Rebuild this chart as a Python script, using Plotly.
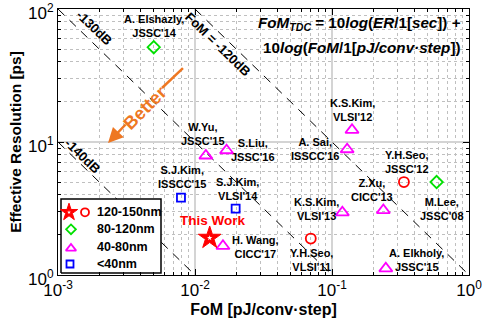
import math
import plotly.graph_objects as go

# ---- TDC survey: FoM [pJ/conv-step] vs. effective resolution [ps] ----
labels_130 = ["Y.H.Seo,<br>VLSI'11", "Y.H.Seo,<br>JSSC'12"]
fom_130 = [0.070, 0.335]
er_130 = [1.88, 5.0]

labels_100 = ["A. Elshazly,<br>JSSC'14", "M.Lee,<br>JSSC'08"]
fom_100 = [0.0050, 0.58]
er_100 = [51.6, 5.0]

labels_60 = ["W.Yu,<br>JSSC'15", "S.Liu,<br>JSSC'16", "H. Wang,<br>CICC'17",
             "K.S.Kim,<br>VLSI'13", "Z.Xu,<br>CICC'13", "K.S.Kim,<br>VLSI'12",
             "A. Sai,<br>ISSCC'16", "A. Elkholy,<br>JSSC'15"]
fom_60 = [0.0120, 0.0170, 0.0160, 0.119, 0.237, 0.140, 0.129, 0.247]
er_60 = [7.9, 8.65, 1.65, 2.95, 3.07, 12.3, 8.8, 1.12]

labels_40 = ["S.J.Kim,<br>ISSCC'15", "S.J.Kim,<br>VLSI'14"]
fom_40 = [0.0079, 0.0198]
er_40 = [3.82, 3.15]

this_work_label = "This Work"
this_work_fom = [0.0128]
this_work_er = [1.9]

fom_tdc_levels = [-120, -130, -140]
fom_tdc_text = ["FoM = -120dB", "-130dB", "-140dB"]

legend_names = ["120-150nm", "80-120nm", "40-80nm", "<40nm"]

x_ticks = [1e-3, 1e-2, 1e-1, 1]
x_ticktext = ["10<sup>-3</sup>", "10<sup>-2</sup>", "10<sup>-1</sup>", "10<sup>0</sup>"]
y_ticks = [1, 10, 100]
y_ticktext = ["10<sup>0</sup>", "10<sup>1</sup>", "10<sup>2</sup>"]

# ---- styling ----
FONT = "Liberation Sans, Arial, Helvetica, sans-serif"
RED, GREEN, MAGENTA, BLUE = "#FF0000", "#00E000", "#FF00FF", "#0000FF"
ORANGE = "#EE7722"
X_RANGE = [-3, 0]
Y_RANGE = [0, 2]

# label offsets in pixels (dx right, dy down) relative to each marker
off_130 = [(1, 21), (3, -20.5)]
off_100 = [(0, -21), (5, 27)]
off_60 = [(-3, -22), (26, 0), (33, 1), (-25.5, -3.6), (-11, -20),
          (0, -20.4), (-32, 0), (31, -8.7)]
off_40 = [(1, -21), (2, -20)]
off_tw = (3.5, -17)

fig = go.Figure()

# constant FoM_TDC contours: ER[s] * FoM[pJ] = 10^(dB/10)  ->  ER[ps]*FoM = 10^((dB+120)/10)
for level in fom_tdc_levels:
    c = 10 ** ((level + 120) / 10)
    f_lo = max(10 ** X_RANGE[0], c / 10 ** Y_RANGE[1])
    f_hi = min(10 ** X_RANGE[1], c / 10 ** Y_RANGE[0])
    fig.add_trace(go.Scatter(
        x=[f_lo, f_hi], y=[c / f_lo, c / f_hi], mode="lines",
        line=dict(color="black", width=1, dash="9px,7px"),
        hoverinfo="skip", showlegend=False))


def add_group(fom, er, symbol, color, size):
    fig.add_trace(go.Scatter(
        x=fom, y=er, mode="markers", showlegend=False,
        marker=dict(symbol=symbol, size=size, color="rgba(0,0,0,0)",
                    line=dict(color=color, width=1.8))))


add_group(fom_130, er_130, "circle", RED, 10)
add_group(fom_100, er_100, "diamond", GREEN, 9.5)
add_group(fom_60, er_60, "triangle-up", MAGENTA, 11.5)
add_group(fom_40, er_40, "square", BLUE, 8)

fig.add_trace(go.Scatter(
    x=this_work_fom, y=this_work_er, mode="markers", showlegend=False,
    marker=dict(symbol="star", size=17, color=RED, line=dict(color=RED, width=1))))
fig.add_trace(go.Scatter(
    x=this_work_fom, y=this_work_er, mode="markers", showlegend=False,
    marker=dict(symbol="star", size=4, color="white", line=dict(width=0))))

annotations = []


def add_labels(labels, fom, er, offsets, color="black", size=11):
    for text, f, e, (dx, dy) in zip(labels, fom, er, offsets):
        annotations.append(dict(
            x=math.log10(f), y=math.log10(e), xref="x", yref="y",
            xanchor="center", yanchor="middle",
            text=text, showarrow=False, xshift=dx, yshift=-dy,
            font=dict(family=FONT, size=size, color=color, weight="bold"),
            align="center"))


add_labels(labels_130, fom_130, er_130, off_130)
add_labels(labels_100, fom_100, er_100, off_100)
add_labels(labels_60, fom_60, er_60, off_60)
add_labels(labels_40, fom_40, er_40, off_40)
add_labels([this_work_label], this_work_fom, this_work_er, [off_tw], color=RED, size=13.5)

shapes = []

# contour labels, rotated along the dashed lines
contour_label_pos = [(0.389, 0.865), (0.0876, 0.932), (0.0584, 0.449)]
for text, (px, py) in zip(fom_tdc_text, contour_label_pos):
    annotations.append(dict(
        x=px, y=py, xref="paper", yref="paper", text=text, showarrow=False,
        xanchor="center", yanchor="middle",
        textangle=44, font=dict(family=FONT, size=13, color="black", weight="bold")))

# formula box
annotations.append(dict(
    x=0.985, y=(275 - 24) / 266, xref="paper", yref="paper",
    xanchor="right", yanchor="middle",
    text="<i>FoM</i><sub><i>TDC</i></sub> = 10<i>log</i>(<i>ER</i>/1[<i>sec</i>]) +",
    showarrow=False, font=dict(family=FONT, size=15.2, color="black", weight="bold")))
annotations.append(dict(
    x=0.985, y=(275 - 47) / 266, xref="paper", yref="paper",
    xanchor="right", yanchor="middle",
    text="10<i>log</i>(<i>FoM</i>/1[<i>pJ/conv·step</i>])",
    showarrow=False, font=dict(family=FONT, size=15.2, color="black", weight="bold")))

# "Better" arrow: short lead-in segment, rotated label, then arrow to the head
better_pos = (0.2117, 0.6278)
annotations.append(dict(
    x=0.1217, y=0.4962, xref="paper", yref="paper", ax=19, ay=-20,
    axref="pixel", ayref="pixel", text="", showarrow=True,
    arrowhead=2, arrowsize=1.2, arrowwidth=2.5, arrowcolor=ORANGE, standoff=0))
annotations.append(dict(
    x=better_pos[0], y=better_pos[1], xref="paper", yref="paper", text="Better",
    showarrow=False, xanchor="center", yanchor="middle",
    textangle=-45, font=dict(family=FONT, size=18, color=ORANGE, weight="bold")))

shapes.append(dict(type="line", xref="paper", yref="paper", x0=0.304, y0=0.778,
                   x1=0.253, y1=0.703, line=dict(color=ORANGE, width=2.5)))

# ---- legend panel drawn in an overlay frame spanning the plot area ----
fig.add_trace(go.Scatter(
    x=[0.0073, 0.2506, 0.2506, 0.0073, 0.0073], y=[0.0075, 0.0075, 0.2857, 0.2857, 0.0075],
    xaxis="x2", yaxis="y2", mode="lines", fill="toself", fillcolor="white",
    line=dict(color="black", width=1.5), hoverinfo="skip", showlegend=False))
legend_rows = [0.2357, 0.1718, 0.1041, 0.0414]
legend_marks = [
    ([0.0268], [legend_rows[0]], "star", RED, 13, True),
    ([0.0657], [legend_rows[0]], "circle", RED, 8, False),
    ([0.0316], [legend_rows[1]], "diamond", GREEN, 7.5, False),
    ([0.0316], [legend_rows[2] - 0.004], "triangle-up", MAGENTA, 9, False),
    ([0.0292], [legend_rows[3]], "square", BLUE, 7, False),
]
for lx, ly, sym, col, sz, filled in legend_marks:
    fig.add_trace(go.Scatter(
        x=lx, y=ly, xaxis="x2", yaxis="y2", mode="markers", showlegend=False,
        hoverinfo="skip",
        marker=dict(symbol=sym, size=sz, color=col if filled else "rgba(0,0,0,0)",
                    line=dict(color=col, width=1.8 if not filled else 1))))
fig.add_trace(go.Scatter(
    x=[0.0268], y=[legend_rows[0]], xaxis="x2", yaxis="y2", mode="markers",
    showlegend=False, hoverinfo="skip",
    marker=dict(symbol="star", size=3, color="white", line=dict(width=0))))
for name, ly in zip(legend_names, legend_rows):
    annotations.append(dict(
        x=0.0900, y=ly, xref="paper", yref="paper", xanchor="left", yanchor="middle",
        text=name, showarrow=False,
        font=dict(family=FONT, size=12.5, color="black", weight="bold")))

axis_common = dict(
    type="log", ticks="inside", ticklen=6, tickcolor="black", tickwidth=1,
    showline=True, linecolor="black", linewidth=1, mirror="allticks",
    showgrid=True, gridcolor="#d4d4d4", gridwidth=1.5,
    ticklabeloverflow="allow", automargin=False,
    tickfont=dict(family=FONT, size=17, color="black"),
    minor=dict(ticks="inside", ticklen=3, tickcolor="black", dtick="D1",
               showgrid=True, gridcolor="#bfbfbf", griddash="dot", gridwidth=1),
)

fig.update_layout(
    template="none",
    width=482, height=329, margin=dict(l=58, r=13, t=9, b=54, autoexpand=False),
    paper_bgcolor="white", plot_bgcolor="white", showlegend=False,
    xaxis=dict(axis_common, range=X_RANGE, tickmode="array", tickvals=x_ticks,
               ticktext=x_ticktext,
               title=dict(text="FoM [pJ/conv·step]", standoff=4,
                          font=dict(family=FONT, size=16, color="black", weight="bold"))),
    yaxis=dict(axis_common, range=Y_RANGE, tickmode="array", tickvals=y_ticks,
               ticktext=y_ticktext, ticklabelshift=4,
               title=dict(text="Effective Resolution [ps]", standoff=2,
                          font=dict(family=FONT, size=15.5, color="black", weight="bold"))),
    xaxis2=dict(overlaying="x", anchor="y2", range=[0, 1], visible=False),
    yaxis2=dict(overlaying="y", anchor="x2", range=[0, 1], visible=False),
    annotations=annotations, shapes=shapes,
)

fig.write_html("out.html")
